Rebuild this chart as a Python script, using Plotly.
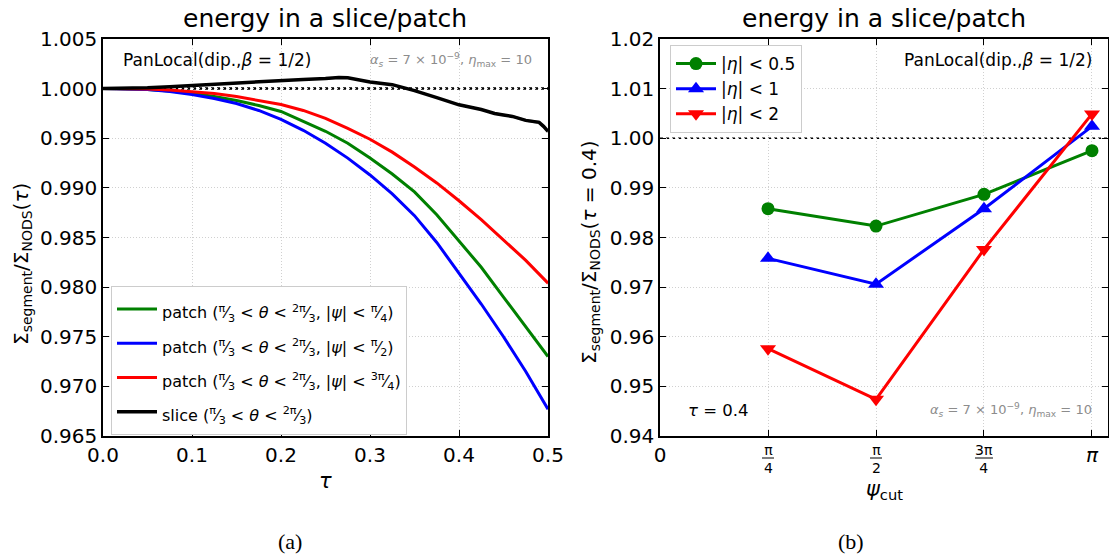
import math
import plotly.graph_objects as go

# ---------------- data: left panel ----------------
tau = [0.0, 0.025, 0.05, 0.075, 0.1, 0.125, 0.15, 0.175, 0.2, 0.225, 0.25,
       0.275, 0.3, 0.325, 0.35, 0.375, 0.4, 0.425, 0.45, 0.475, 0.5]
patch_quarter = [1.0, 0.99998, 0.9999, 0.99975, 0.99953, 0.9992, 0.9988, 0.9983, 0.9977, 0.9967, 0.9957,
                 0.9945, 0.9930, 0.9914, 0.9896, 0.9873, 0.9847, 0.9820, 0.9790, 0.9760, 0.9730]
patch_half = [1.0, 0.99998, 0.9999, 0.9997, 0.9994, 0.9990, 0.9985, 0.9978, 0.9969, 0.9958, 0.9945,
              0.9930, 0.9913, 0.9894, 0.9872, 0.9845, 0.9814, 0.9783, 0.9750, 0.9715, 0.9677]
patch_3quarter = [1.0, 1.0, 0.99995, 0.99985, 0.9997, 0.9995, 0.9992, 0.9988, 0.9984, 0.9978, 0.9970,
                  0.9960, 0.9949, 0.9936, 0.9921, 0.9905, 0.9887, 0.9868, 0.9848, 0.9827, 0.9804]
patch_3quarter_err = [0, 0, 0, 0, 0, 0, 0, 0, 0, 0.00002, 0.00003,
                      0.00004, 0.00005, 0.00006, 0.00007, 0.00008, 0.0001, 0.00012, 0.00014, 0.00016, 0.00018]

slice_tau = [0.0, 0.025, 0.05, 0.075, 0.1, 0.125, 0.15, 0.175, 0.2, 0.225, 0.25, 0.265,
             0.275, 0.3, 0.325, 0.35, 0.375, 0.4, 0.425, 0.44, 0.45, 0.46, 0.475, 0.48, 0.49, 0.495, 0.5]
slice_vals = [1.0, 1.00003, 1.0001, 1.0002, 1.00033, 1.00045, 1.00058, 1.0007, 1.00083, 1.00093, 1.00102, 1.00113,
              1.0011, 1.00066, 1.0004, 0.9998, 0.9991, 0.99837, 0.9979, 0.9975, 0.99735, 0.9972, 0.9968, 0.99672,
              0.9966, 0.9962, 0.9957]
slice_err = [0, 0, 0, 0, 0, 0, 0, 0, 0, 0.00002, 0.00003, 0.00004,
             0.00004, 0.00005, 0.00006, 0.00007, 0.00008, 0.0001, 0.00011, 0.00012, 0.00013, 0.00014, 0.00015,
             0.00016, 0.00017, 0.00018, 0.0002]

# ---------------- data: right panel ----------------
psi_cut = [math.pi / 4, math.pi / 2, 3 * math.pi / 4, math.pi]
eta_05 = [0.9858, 0.9823, 0.9887, 0.9975]
eta_1 = [0.9758, 0.9706, 0.9858, 1.0024]
eta_2 = [0.9576, 0.9474, 0.9776, 1.0049]

psi_tickvals = [0, math.pi / 4, math.pi / 2, 3 * math.pi / 4, math.pi]
psi_ticktext = ["0", "", "", "", "<i>π</i>"]
psi_frac_num = ["π", "π", "3π"]
psi_frac_den = ["4", "2", "4"]

W, H = 1109, 556
FONT = "DejaVu Sans"


def px_x(p):
    return p / W


def px_y(p):
    return 1 - p / H


def frac(num, den):
    return f"<sup>{num}</sup>⁄<sub>{den}</sub>"


def leg(text):
    return f"<span style='font-size:16px'>{text}</span>"


fig = go.Figure()

# ---- left panel ----
fig.add_trace(go.Scatter(x=slice_tau, y=[v + e for v, e in zip(slice_vals, slice_err)], mode="lines",
                         line=dict(width=0, color="rgba(0,0,0,0)"), showlegend=False, hoverinfo="skip",
                         xaxis="x", yaxis="y"))
fig.add_trace(go.Scatter(x=slice_tau, y=[v - e for v, e in zip(slice_vals, slice_err)], mode="lines",
                         line=dict(width=0, color="rgba(0,0,0,0)"), fill="tonexty",
                         fillcolor="rgba(0,0,0,0.35)", showlegend=False, hoverinfo="skip",
                         xaxis="x", yaxis="y"))
fig.add_trace(go.Scatter(x=tau, y=[v + e for v, e in zip(patch_3quarter, patch_3quarter_err)], mode="lines",
                         line=dict(width=0, color="rgba(0,0,0,0)"), showlegend=False, hoverinfo="skip",
                         xaxis="x", yaxis="y"))
fig.add_trace(go.Scatter(x=tau, y=[v - e for v, e in zip(patch_3quarter, patch_3quarter_err)], mode="lines",
                         line=dict(width=0, color="rgba(0,0,0,0)"), fill="tonexty",
                         fillcolor="rgba(255,0,0,0.3)", showlegend=False, hoverinfo="skip",
                         xaxis="x", yaxis="y"))

lab_th = f"{frac('π', '3')} &lt; <i>θ</i> &lt; {frac('2π', '3')}"
fig.add_trace(go.Scatter(x=tau, y=patch_quarter, mode="lines", line=dict(color="green", width=3),
                         name=leg(f"patch ({lab_th}, |<i>ψ</i>| &lt; {frac('π', '4')})"),
                         xaxis="x", yaxis="y", legend="legend"))
fig.add_trace(go.Scatter(x=tau, y=patch_half, mode="lines", line=dict(color="blue", width=3),
                         name=leg(f"patch ({lab_th}, |<i>ψ</i>| &lt; {frac('π', '2')})"),
                         xaxis="x", yaxis="y", legend="legend"))
fig.add_trace(go.Scatter(x=tau, y=patch_3quarter, mode="lines", line=dict(color="red", width=3),
                         name=leg(f"patch ({lab_th}, |<i>ψ</i>| &lt; {frac('3π', '4')})"),
                         xaxis="x", yaxis="y", legend="legend"))
fig.add_trace(go.Scatter(x=slice_tau, y=slice_vals, mode="lines", line=dict(color="black", width=3.5),
                         name=leg(f"slice ({lab_th})"), xaxis="x", yaxis="y", legend="legend"))

# ---- right panel ----
fig.add_trace(go.Scatter(x=psi_cut, y=eta_05, mode="lines+markers", name="|<i>η</i>| &lt; 0.5",
                         line=dict(color="green", width=3), marker=dict(symbol="circle", size=13, color="green"),
                         xaxis="x2", yaxis="y2", legend="legend2"))
fig.add_trace(go.Scatter(x=psi_cut, y=eta_1, mode="lines+markers", name="|<i>η</i>| &lt; 1",
                         line=dict(color="blue", width=3), marker=dict(symbol="triangle-up", size=14, color="blue"),
                         xaxis="x2", yaxis="y2", legend="legend2"))
fig.add_trace(go.Scatter(x=psi_cut, y=eta_2, mode="lines+markers", name="|<i>η</i>| &lt; 2",
                         line=dict(color="red", width=3), marker=dict(symbol="triangle-down", size=14, color="red"),
                         xaxis="x2", yaxis="y2", legend="legend2"))

ydom = [px_y(436), px_y(39)]
axis_common = dict(showline=True, linecolor="black", linewidth=1.5, mirror="ticks", ticks="inside",
                   ticklen=6, tickwidth=1.3, tickcolor="black", showgrid=True, gridcolor="#d0d0d0",
                   griddash="1px,2px", gridwidth=1, zeroline=False, automargin=False,
                   tickfont=dict(family=FONT, size=20, color="black"))

fig.update_layout(
    width=W, height=H,
    margin=dict(l=0, r=0, t=0, b=0),
    paper_bgcolor="white", plot_bgcolor="white",
    font=dict(family=FONT, color="black"),
    xaxis=dict(domain=[px_x(103), px_x(548)], range=[0, 0.5], dtick=0.1, tickformat=".1f",
               anchor="y", **axis_common),
    yaxis=dict(domain=ydom, range=[0.965, 1.005], dtick=0.005, tickformat=".3f",
               anchor="x", **axis_common),
    xaxis2=dict(domain=[px_x(660), px_x(1108)], range=[0, 3.258], tickmode="array",
                tickvals=psi_tickvals, ticktext=psi_ticktext, anchor="y2", **axis_common),
    yaxis2=dict(domain=ydom, range=[0.94, 1.02], dtick=0.01, tickformat=".2f",
                anchor="x2", **axis_common),
    legend=dict(x=px_x(111), y=px_y(286), xanchor="left", yanchor="top", bgcolor="white",
                bordercolor="#cccccc", borderwidth=1, font=dict(family=FONT, size=24),
                tracegroupgap=0, itemwidth=40, traceorder="normal"),
    legend2=dict(x=px_x(670), y=px_y(45), xanchor="left", yanchor="top", bgcolor="white",
                 bordercolor="#cccccc", borderwidth=1, font=dict(family=FONT, size=17),
                 tracegroupgap=0, itemwidth=40, traceorder="normal"),
    showlegend=True,
)

fig.add_shape(type="line", xref="x domain", yref="y", x0=0, x1=1, y0=1.0, y1=1.0,
              line=dict(color="black", width=2.5, dash="dot"), layer="below")
fig.add_shape(type="line", xref="x2 domain", yref="y2", x0=0, x1=1, y0=1.0, y1=1.0,
              line=dict(color="black", width=1.5, dash="dot"), layer="below")

ann = []
ann.append(dict(text="energy in a slice/patch", x=px_x(325), y=px_y(18), xref="paper", yref="paper",
                showarrow=False, font=dict(size=25), xanchor="center", yanchor="middle"))
ann.append(dict(text="energy in a slice/patch", x=px_x(884), y=px_y(18), xref="paper", yref="paper",
                showarrow=False, font=dict(size=25), xanchor="center", yanchor="middle"))
ann.append(dict(text="Σ<sub>segment</sub>/Σ<sub>NODS</sub>(<i>τ</i>)", x=px_x(22), y=px_y(264),
                xref="paper", yref="paper", showarrow=False, textangle=-90, font=dict(size=20),
                xanchor="center", yanchor="middle"))
ann.append(dict(text="Σ<sub>segment</sub>/Σ<sub>NODS</sub>(<i>τ</i> = 0.4)", x=px_x(590), y=px_y(252),
                xref="paper", yref="paper", showarrow=False, textangle=-90, font=dict(size=20),
                xanchor="center", yanchor="middle"))
ann.append(dict(text="<i>τ</i>", x=px_x(325), y=px_y(481), xref="paper", yref="paper", showarrow=False,
                font=dict(size=21), xanchor="center", yanchor="middle"))
ann.append(dict(text="<i>ψ</i><sub>cut</sub>", x=px_x(884), y=px_y(490), xref="paper", yref="paper",
                showarrow=False, font=dict(size=21), xanchor="center", yanchor="middle"))
ann.append(dict(text="PanLocal(dip.,<i>β</i> = 1/2)", x=px_x(121), y=px_y(60), xref="paper", yref="paper",
                showarrow=False, font=dict(size=17), xanchor="left", yanchor="middle"))
ann.append(dict(text="<i>α<sub>s</sub></i> = 7 × 10<sup>−9</sup>, <i>η</i><sub>max</sub> = 10",
                x=px_x(534), y=px_y(60), xref="paper", yref="paper", showarrow=False,
                font=dict(size=13, color="#8c8c8c"), xanchor="right", yanchor="middle"))
ann.append(dict(text="PanLocal(dip.,<i>β</i> = 1/2)", x=px_x(1094), y=px_y(60), xref="paper", yref="paper",
                showarrow=False, font=dict(size=17), xanchor="right", yanchor="middle"))
ann.append(dict(text="<i>τ</i> = 0.4", x=px_x(686), y=px_y(410), xref="paper", yref="paper",
                showarrow=False, font=dict(size=16.5), xanchor="left", yanchor="middle"))
ann.append(dict(text="<i>α<sub>s</sub></i> = 7 × 10<sup>−9</sup>, <i>η</i><sub>max</sub> = 10",
                x=px_x(1094), y=px_y(410), xref="paper", yref="paper", showarrow=False,
                font=dict(size=13, color="#8c8c8c"), xanchor="right", yanchor="middle"))
ann.append(dict(text="(a)", x=px_x(290), y=px_y(541), xref="paper", yref="paper", showarrow=False,
                font=dict(size=22, family="Liberation Serif"), xanchor="center", yanchor="middle"))
ann.append(dict(text="(b)", x=px_x(851), y=px_y(541), xref="paper", yref="paper", showarrow=False,
                font=dict(size=22, family="Liberation Serif"), xanchor="center", yanchor="middle"))

for v, n, d in zip(psi_tickvals[1:4], psi_frac_num, psi_frac_den):
    ann.append(dict(text=f"{n}<br>{d}", x=v, y=px_y(459), xref="x2", yref="paper", showarrow=False,
                    font=dict(size=14), xanchor="center", yanchor="middle"))
    half = 9 if len(n) > 1 else 6
    fig.add_shape(type="line", xref="x2", yref="paper", xsizemode="pixel", xanchor=v, x0=-half, x1=half,
                  y0=px_y(458), y1=px_y(458), line=dict(color="black", width=1))

fig.update_layout(annotations=ann)

fig.write_html("out.html", config={"displayModeBar": False},
               post_script="document.body.style.margin='0px';")
